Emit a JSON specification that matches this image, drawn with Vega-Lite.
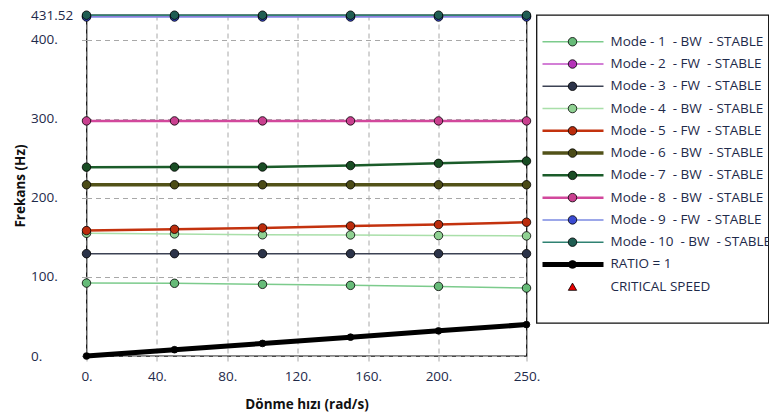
{
  "$schema": "https://vega.github.io/schema/vega-lite/v6.json",
  "padding": {"left": 12.5, "top": 7, "right": 0, "bottom": 0},
  "background": "white",
  "config": {
    "font": "Open Sans",
    "view": {"stroke": "#111111", "strokeWidth": 1.3},
    "axis": {"labelFont": "Open Sans", "labelFontSize": 13.5, "labelColor": "#1e2a4a", "titleFont": "Open Sans", "titleFontSize": 13.5, "titleFontWeight": "bold", "titleColor": "#111111"}
  },
  "datasets": {
    "curves": [
      {"series": "Mode 1", "x": 0, "y": 92.3}, {"series": "Mode 1", "x": 50, "y": 92.0}, {"series": "Mode 1", "x": 100, "y": 90.7}, {"series": "Mode 1", "x": 150, "y": 89.4}, {"series": "Mode 1", "x": 200, "y": 88.1}, {"series": "Mode 1", "x": 250, "y": 86.0},
      {"series": "Mode 2", "x": 0, "y": 429.8}, {"series": "Mode 2", "x": 50, "y": 429.8}, {"series": "Mode 2", "x": 100, "y": 429.8}, {"series": "Mode 2", "x": 150, "y": 429.8}, {"series": "Mode 2", "x": 200, "y": 429.8}, {"series": "Mode 2", "x": 250, "y": 429.8},
      {"series": "Mode 3", "x": 0, "y": 129.5}, {"series": "Mode 3", "x": 50, "y": 129.5}, {"series": "Mode 3", "x": 100, "y": 129.5}, {"series": "Mode 3", "x": 150, "y": 129.5}, {"series": "Mode 3", "x": 200, "y": 129.5}, {"series": "Mode 3", "x": 250, "y": 129.5},
      {"series": "Mode 4", "x": 0, "y": 155.3}, {"series": "Mode 4", "x": 50, "y": 154.5}, {"series": "Mode 4", "x": 100, "y": 153.4}, {"series": "Mode 4", "x": 150, "y": 153.2}, {"series": "Mode 4", "x": 200, "y": 152.4}, {"series": "Mode 4", "x": 250, "y": 152.0},
      {"series": "Mode 5", "x": 0, "y": 158.7}, {"series": "Mode 5", "x": 50, "y": 160.4}, {"series": "Mode 5", "x": 100, "y": 162.1}, {"series": "Mode 5", "x": 150, "y": 164.6}, {"series": "Mode 5", "x": 200, "y": 166.3}, {"series": "Mode 5", "x": 250, "y": 169.3},
      {"series": "Mode 6", "x": 0, "y": 216.7}, {"series": "Mode 6", "x": 50, "y": 216.7}, {"series": "Mode 6", "x": 100, "y": 216.7}, {"series": "Mode 6", "x": 150, "y": 216.7}, {"series": "Mode 6", "x": 200, "y": 216.7}, {"series": "Mode 6", "x": 250, "y": 216.7},
      {"series": "Mode 7", "x": 0, "y": 239.0}, {"series": "Mode 7", "x": 50, "y": 239.1}, {"series": "Mode 7", "x": 100, "y": 239.2}, {"series": "Mode 7", "x": 150, "y": 241.0}, {"series": "Mode 7", "x": 200, "y": 243.8}, {"series": "Mode 7", "x": 250, "y": 246.7},
      {"series": "Mode 8", "x": 0, "y": 297.5}, {"series": "Mode 8", "x": 50, "y": 297.5}, {"series": "Mode 8", "x": 100, "y": 297.5}, {"series": "Mode 8", "x": 150, "y": 297.5}, {"series": "Mode 8", "x": 200, "y": 297.5}, {"series": "Mode 8", "x": 250, "y": 297.5},
      {"series": "Mode 9", "x": 0, "y": 429.0}, {"series": "Mode 9", "x": 50, "y": 429.0}, {"series": "Mode 9", "x": 100, "y": 429.0}, {"series": "Mode 9", "x": 150, "y": 429.0}, {"series": "Mode 9", "x": 200, "y": 429.0}, {"series": "Mode 9", "x": 250, "y": 429.0},
      {"series": "Mode 10", "x": 0, "y": 431.3}, {"series": "Mode 10", "x": 50, "y": 431.3}, {"series": "Mode 10", "x": 100, "y": 431.3}, {"series": "Mode 10", "x": 150, "y": 431.3}, {"series": "Mode 10", "x": 200, "y": 431.3}, {"series": "Mode 10", "x": 250, "y": 431.3},
      {"series": "RATIO", "x": 0, "y": 0}, {"series": "RATIO", "x": 50, "y": 7.96}, {"series": "RATIO", "x": 100, "y": 15.92}, {"series": "RATIO", "x": 150, "y": 23.87}, {"series": "RATIO", "x": 200, "y": 31.83}, {"series": "RATIO", "x": 250, "y": 39.79}
    ],
    "legendRows": [
      {"series": "Mode 1", "label": "Mode - 1 \u00a0- BW \u00a0- STABLE"},
      {"series": "Mode 2", "label": "Mode - 2 \u00a0- FW \u00a0- STABLE"},
      {"series": "Mode 3", "label": "Mode - 3 \u00a0- FW \u00a0- STABLE"},
      {"series": "Mode 4", "label": "Mode - 4 \u00a0- BW \u00a0- STABLE"},
      {"series": "Mode 5", "label": "Mode - 5 \u00a0- FW \u00a0- STABLE"},
      {"series": "Mode 6", "label": "Mode - 6 \u00a0- BW \u00a0- STABLE"},
      {"series": "Mode 7", "label": "Mode - 7 \u00a0- BW \u00a0- STABLE"},
      {"series": "Mode 8", "label": "Mode - 8 \u00a0- BW \u00a0- STABLE"},
      {"series": "Mode 9", "label": "Mode - 9 \u00a0- FW \u00a0- STABLE"},
      {"series": "Mode 10", "label": "Mode - 10 \u00a0- BW \u00a0- STABLE"},
      {"series": "RATIO", "label": "RATIO = 1"},
      {"series": "CRITICAL", "label": "CRITICAL SPEED"}
    ]
  },
  "bounds": "flush",
  "spacing": 10,
  "resolve": {"scale": {"x": "independent", "y": "independent", "color": "independent", "fill": "independent", "strokeWidth": "independent", "size": "independent"}},
  "hconcat": [
    {
      "width": 440,
      "height": 341,
      "data": {"name": "curves"},
      "encoding": {
        "x": {"field": "x", "type": "quantitative", "scale": {"domain": [0, 250], "nice": false, "zero": false},
          "axis": {"values": [0, 40, 80, 120, 160, 200, 250], "labelExpr": "datum.value + '.'", "title": "Dönme hızı (rad/s)", "domain": false, "grid": true, "gridDash": [5, 4], "gridColor": "#a8a8a8", "gridWidth": 1, "tickDash": [5, 4], "tickColor": "#a8a8a8", "tickSize": 8, "labelPadding": 5, "titleY": 48, "titleBaseline": "middle", "labelFlush": false}},
        "y": {"field": "y", "type": "quantitative", "scale": {"domain": [0, 431.52], "nice": false, "zero": false},
          "axis": {"values": [0, 100, 200, 300, 400, 431.52], "labelExpr": "datum.value == 431.52 ? '431.52' : datum.value + '.'", "title": "Frekans (Hz)", "domain": false, "grid": true, "gridDash": [5, 4], "gridColor": "#a8a8a8", "gridWidth": 1, "tickDash": [5, 4], "tickColor": "#a8a8a8", "tickSize": 9, "labelAlign": "left", "labelBaseline": "middle", "labelPadding": 47, "titleX": -66, "titleBaseline": "middle", "labelFlush": false}}
      },
      "layer": [
        {
          "mark": {"type": "line", "clip": false},
          "encoding": {
            "color": {"field": "series", "type": "nominal", "legend": null,
              "scale": {"domain": ["Mode 1", "Mode 2", "Mode 3", "Mode 4", "Mode 5", "Mode 6", "Mode 7", "Mode 8", "Mode 9", "Mode 10", "RATIO", "CRITICAL"],
                "range": ["#7ccb8c", "#c455c8", "#3c4254", "#a9dfa9", "#c3320e", "#525219", "#1b5c2a", "#d2489c", "#7b8ae2", "#2f8272", "#000000", "#e00000"]}},
            "strokeWidth": {"field": "series", "type": "nominal", "legend": null,
              "scale": {"type": "ordinal", "domain": ["Mode 1", "Mode 2", "Mode 3", "Mode 4", "Mode 5", "Mode 6", "Mode 7", "Mode 8", "Mode 9", "Mode 10", "RATIO", "CRITICAL"],
                "range": [1.5, 1.5, 1.5, 1.5, 2.5, 3.5, 2.5, 2.5, 1.5, 1.5, 5, 1]}}
          }
        },
        {
          "mark": {"type": "point", "filled": true, "shape": "circle", "stroke": "#000000", "strokeWidth": 0.8, "opacity": 1, "clip": false},
          "encoding": {
            "fill": {"field": "series", "type": "nominal", "legend": null,
              "scale": {"domain": ["Mode 1", "Mode 2", "Mode 3", "Mode 4", "Mode 5", "Mode 6", "Mode 7", "Mode 8", "Mode 9", "Mode 10", "RATIO", "CRITICAL"],
                "range": ["#66bb78", "#b432b8", "#2b3349", "#8fd192", "#bb2c0c", "#4b4b17", "#194d24", "#c9408f", "#3a4ad2", "#1f5d52", "#000000", "#e00000"]}},
            "size": {"field": "series", "type": "nominal", "legend": null,
              "scale": {"type": "ordinal", "domain": ["Mode 1", "Mode 2", "Mode 3", "Mode 4", "Mode 5", "Mode 6", "Mode 7", "Mode 8", "Mode 9", "Mode 10", "RATIO", "CRITICAL"],
                "range": [72, 72, 72, 72, 72, 72, 72, 72, 72, 72, 45, 60]}}
          }
        }
      ]
    },
    {
      "width": 232,
      "height": 308,
      "data": {"name": "legendRows"},
      "encoding": {
        "y": {"field": "series", "type": "nominal", "axis": null,
          "scale": {"type": "point", "domain": ["Mode 1", "Mode 2", "Mode 3", "Mode 4", "Mode 5", "Mode 6", "Mode 7", "Mode 8", "Mode 9", "Mode 10", "RATIO", "CRITICAL", "_end"], "padding": 0.915, "align": 0.656}}
      },
      "layer": [
        {
          "transform": [{"filter": "datum.series != 'CRITICAL'"}],
          "mark": {"type": "rule"},
          "encoding": {
            "x": {"datum": 6, "type": "quantitative", "scale": {"domain": [0, 232], "nice": false, "zero": true}, "axis": null},
            "x2": {"datum": 67},
            "color": {"field": "series", "type": "nominal", "legend": null,
              "scale": {"domain": ["Mode 1", "Mode 2", "Mode 3", "Mode 4", "Mode 5", "Mode 6", "Mode 7", "Mode 8", "Mode 9", "Mode 10", "RATIO", "CRITICAL"],
                "range": ["#7ccb8c", "#c455c8", "#3c4254", "#a9dfa9", "#c3320e", "#525219", "#1b5c2a", "#d2489c", "#7b8ae2", "#2f8272", "#000000", "#e00000"]}},
            "strokeWidth": {"field": "series", "type": "nominal", "legend": null,
              "scale": {"type": "ordinal", "domain": ["Mode 1", "Mode 2", "Mode 3", "Mode 4", "Mode 5", "Mode 6", "Mode 7", "Mode 8", "Mode 9", "Mode 10", "RATIO", "CRITICAL"],
                "range": [1.5, 1.5, 1.5, 1.5, 2.5, 3.5, 2.5, 2.5, 1.5, 1.5, 5, 1]}}
          }
        },
        {
          "transform": [{"filter": "datum.series != 'CRITICAL'"}],
          "mark": {"type": "point", "filled": true, "shape": "circle", "stroke": "#000000", "strokeWidth": 0.8, "opacity": 1},
          "encoding": {
            "x": {"datum": 36, "type": "quantitative"},
            "fill": {"field": "series", "type": "nominal", "legend": null,
              "scale": {"domain": ["Mode 1", "Mode 2", "Mode 3", "Mode 4", "Mode 5", "Mode 6", "Mode 7", "Mode 8", "Mode 9", "Mode 10", "RATIO", "CRITICAL"],
                "range": ["#66bb78", "#b432b8", "#2b3349", "#8fd192", "#bb2c0c", "#4b4b17", "#194d24", "#c9408f", "#3a4ad2", "#1f5d52", "#000000", "#e00000"]}},
            "size": {"field": "series", "type": "nominal", "legend": null,
              "scale": {"type": "ordinal", "domain": ["Mode 1", "Mode 2", "Mode 3", "Mode 4", "Mode 5", "Mode 6", "Mode 7", "Mode 8", "Mode 9", "Mode 10", "RATIO", "CRITICAL"],
                "range": [72, 72, 72, 72, 72, 72, 72, 72, 72, 72, 60, 60]}}
          }
        },
        {
          "transform": [{"filter": "datum.series == 'CRITICAL'"}],
          "mark": {"type": "point", "filled": true, "shape": "triangle-up", "fill": "#e80000", "stroke": "#000000", "strokeWidth": 0.8, "size": 70, "opacity": 1},
          "encoding": {
            "x": {"datum": 36, "type": "quantitative"}
          }
        },
        {
          "mark": {"type": "text", "align": "left", "baseline": "middle", "font": "Open Sans", "fontSize": 13.5, "color": "#1e2a4a", "clip": true},
          "encoding": {
            "x": {"datum": 74, "type": "quantitative"},
            "text": {"field": "label"}
          }
        }
      ]
    }
  ]
}
